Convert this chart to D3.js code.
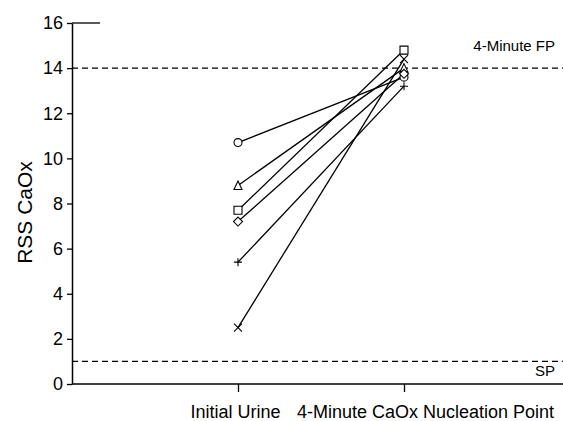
<!DOCTYPE html>
<html>
<head>
    <title>RSS CaOx</title>
    <script src="https://d3js.org/d3.v7.min.js"></script>
    <style>
        body {
            margin: 0;
            background: #fff;
        }
        svg text { font-family: "Liberation Sans", Arial, sans-serif; fill: #000; }
        .tick-label { font-size: 18px; }
        .axis-title { font-size: 21px; }
        .ref-label { font-size: 15px; }
    </style>
</head>
<body>
    <svg id="chart" width="563" height="421"></svg>
    <script>
        // data
        const categories = ["Initial Urine", "4-Minute CaOx Nucleation Point"];
        const markers = ["circle", "triangle", "square", "diamond", "plus", "times"];
        const initialUrine = [10.7, 8.8, 7.7, 7.2, 5.4, 2.5];
        const nucleationPoint = [13.6, 14.0, 14.8, 13.75, 13.2, 14.4];
        const yTicks = [0, 2, 4, 6, 8, 10, 12, 14, 16];
        const refNames = ["4-Minute FP", "SP"];
        const refValues = [14.0, 1.0];

        const svg = d3.select("#chart");
        const width = +svg.attr("width");
        const height = +svg.attr("height");
        const margin = { top: 23, left: 72, bottom: 37 };

        const y = d3.scaleLinear().domain([0, 16]).range([height - margin.bottom, margin.top]);
        const x = d3.scaleLinear().domain([0, 3]).range([margin.left, margin.left + 3 * 166]);

        // custom open symbols
        const sym = {
            circle: { draw(c, s) { const r = Math.sqrt(s / Math.PI); c.moveTo(r, 0); c.arc(0, 0, r, 0, 2 * Math.PI); } },
            square: { draw(c, s) { const h = Math.sqrt(s) / 2; c.moveTo(-h, -h); c.lineTo(h, -h); c.lineTo(h, h); c.lineTo(-h, h); c.closePath(); } },
            triangle: { draw(c, s) { const h = Math.sqrt(s) / 2; c.moveTo(0, -h - 0.5); c.lineTo(h, h); c.lineTo(-h, h); c.closePath(); } },
            diamond: { draw(c, s) { const h = Math.sqrt(s) / 2 + 0.5; c.moveTo(0, -h); c.lineTo(h, 0); c.lineTo(0, h); c.lineTo(-h, 0); c.closePath(); } },
            plus: { draw(c, s) { const h = Math.sqrt(s) / 2; c.moveTo(-h, 0); c.lineTo(h, 0); c.moveTo(0, -h); c.lineTo(0, h); } },
            times: { draw(c, s) { const h = Math.sqrt(s) / 2; c.moveTo(-h, -h); c.lineTo(h, h); c.moveTo(h, -h); c.lineTo(-h, h); } }
        };

        const rows = markers.map((m, i) => ({ marker: m, values: [initialUrine[i], nucleationPoint[i]] }));

        // reference lines
        const refs = refNames.map((n, i) => ({ name: n, value: refValues[i] }));
        svg.selectAll(".ref-line").data(refs).enter().append("line")
            .attr("class", "ref-line")
            .attr("x1", margin.left).attr("x2", width)
            .attr("y1", d => y(d.value)).attr("y2", d => y(d.value))
            .attr("stroke", "#000").attr("stroke-width", 1.2)
            .attr("stroke-dasharray", "6,4");

        svg.selectAll(".ref-label").data(refs).enter().append("text")
            .attr("class", "ref-label")
            .attr("x", width - 8)
            .attr("y", (d, i) => i === 0 ? y(d.value) - 17 : y(d.value) + 15)
            .attr("text-anchor", "end")
            .text(d => d.name);

        // connecting lines
        const line = d3.line().x((d, i) => x(i + 1)).y(d => y(d));
        svg.selectAll(".subject").data(rows).enter().append("path")
            .attr("class", "subject")
            .attr("d", d => line(d.values))
            .attr("fill", "none")
            .attr("stroke", "#000")
            .attr("stroke-width", 1.3);

        // markers
        rows.forEach(r => {
            svg.selectAll(null).data(r.values).enter().append("path")
                .attr("transform", (d, i) => `translate(${x(i + 1)},${y(d)})`)
                .attr("d", d3.symbol().type(sym[r.marker]).size(r.marker === "circle" ? 50 : 64))
                .attr("fill", r.marker === "plus" || r.marker === "times" ? "none" : "#fff")
                .attr("stroke", "#000")
                .attr("stroke-width", 1.1);
        });

        // y axis
        const yAxis = d3.axisLeft(y).tickValues(yTicks).tickSize(5).tickSizeOuter(0).tickPadding(4);
        const gy = svg.append("g").attr("transform", `translate(${margin.left},0)`).call(yAxis)
            .attr("font-family", null).attr("font-size", null);
        gy.select(".domain").attr("stroke-width", 1.5);
        gy.selectAll(".tick line").attr("stroke-width", 1.3);
        gy.selectAll(".tick text").attr("class", "tick-label");

        // short cap at the top of the y axis
        svg.append("line")
            .attr("x1", margin.left).attr("x2", margin.left + 28)
            .attr("y1", y(16)).attr("y2", y(16))
            .attr("stroke", "#000").attr("stroke-width", 1.3);

        // x axis
        const xAxis = d3.axisBottom(x).tickValues([1, 2]).tickSize(8).tickSizeOuter(0)
            .tickFormat(d => categories[d - 1]);
        const gx = svg.append("g").attr("transform", `translate(0,${y(0)})`).call(xAxis)
            .attr("font-family", null).attr("font-size", null);
        gx.select(".domain").attr("d", `M${margin.left},0H${width}`).attr("stroke-width", 1.5);
        gx.selectAll(".tick line").attr("stroke-width", 1.3);
        gx.selectAll(".tick text").attr("class", "tick-label")
            .attr("dy", "1.25em")
            .attr("dx", (d, i) => i === 1 ? 21 : -3);

        // y title
        svg.append("text")
            .attr("class", "axis-title")
            .attr("transform", `translate(32,${(y(0) + y(16)) / 2 + 9}) rotate(-90)`)
            .attr("text-anchor", "middle")
            .text("RSS CaOx");
    </script>
</body>
</html>
